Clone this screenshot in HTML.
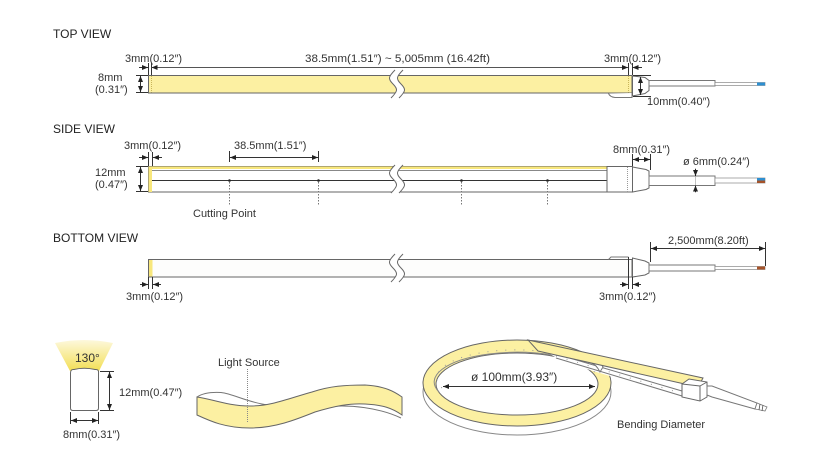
<!DOCTYPE html>
<html><head><meta charset="utf-8">
<style>
html,body{margin:0;padding:0;background:#fff;}
svg{display:block;}
text{font-family:"Liberation Sans",sans-serif;fill:#333;font-size:11px;}
.h{font-size:12px;fill:#222;}
</style></head>
<body>
<svg width="821" height="467" viewBox="0 0 821 467" xmlns="http://www.w3.org/2000/svg">
<defs>
<marker id="a" viewBox="0 0 6 5" refX="6" refY="2.5" markerWidth="6" markerHeight="5" orient="auto-start-reverse" markerUnits="userSpaceOnUse"><path d="M0,0L6,2.5L0,5z" fill="#222"/></marker>
<linearGradient id="fan" x1="0" y1="1" x2="0" y2="0"><stop offset="0" stop-color="#f3df55"/><stop offset="1" stop-color="#fdf8dc"/></linearGradient>
</defs>
<rect width="821" height="467" fill="#fff"/>

<!-- ================= TOP VIEW ================= -->
<text class="h" x="53" y="38">TOP VIEW</text>
<text x="125" y="62">3mm(0.12″)</text>
<text x="305" y="62" textLength="185" lengthAdjust="spacingAndGlyphs">38.5mm(1.51″) ~ 5,005mm (16.42ft)</text>
<text x="604" y="62">3mm(0.12″)</text>
<text x="98" y="81">8mm</text>
<text x="95" y="93">(0.31″)</text>
<text x="647" y="105">10mm(0.40″)</text>

<g stroke="#333" stroke-width="1" fill="none">
  <line x1="148.5" y1="63" x2="148.5" y2="75"/>
  <line x1="151.5" y1="63" x2="151.5" y2="75"/>
  <line x1="628.5" y1="63" x2="628.5" y2="75"/>
  <line x1="632.5" y1="63" x2="632.5" y2="75"/>
  <line x1="139" y1="67.5" x2="148" y2="67.5" marker-end="url(#a)"/>
  <line x1="151.5" y1="67.5" x2="628" y2="67.5" stroke="#555" marker-start="url(#a)" marker-end="url(#a)"/>
  <line x1="642" y1="67.5" x2="632.5" y2="67.5" marker-end="url(#a)"/>
  <line x1="136" y1="75.5" x2="148" y2="75.5"/>
  <line x1="136" y1="92.5" x2="148" y2="92.5"/>
  <line x1="140.5" y1="76" x2="140.5" y2="92" marker-start="url(#a)" marker-end="url(#a)"/>
</g>
<rect x="148.5" y="75.5" width="483.5" height="17.5" fill="#fcf0a2" stroke="#666"/>
<line x1="151.5" y1="76" x2="151.5" y2="92.5" stroke="#c8b55a" stroke-dasharray="1,1"/>
<line x1="628.5" y1="76" x2="628.5" y2="92.5" stroke="#c8b55a" stroke-dasharray="1,1"/>
<path d="M608.5,93.5 Q610,97 615,97.5 H632 V93" fill="#fff" stroke="#777"/>
<path d="M632.5,76 L645,77.5 L649,80.5 V90.5 L645,93.5 L632.5,96 Z" fill="#fff" stroke="#666"/>
<rect x="649" y="80.5" width="66" height="5.5" fill="#fff" stroke="#777"/>
<rect x="715" y="82.5" width="50" height="3" fill="#fff" stroke="#888" stroke-width=".7"/>
<rect x="757" y="82.5" width="8" height="3" fill="#2e8fd0"/>
<g stroke="#333" fill="none">
  <line x1="633" y1="75.5" x2="651" y2="75.5"/>
  <line x1="633" y1="96.5" x2="651" y2="96.5"/>
  <line x1="640.5" y1="77" x2="640.5" y2="95" marker-start="url(#a)" marker-end="url(#a)"/>
</g>
<!-- break -->
<g transform="translate(0,0)">
  <path d="M395,70 C388,77 388,79 393,84 C398,89 398,91 391,98 L399,98 C406,91 406,89 401,84 C396,79 396,77 403,70 Z" fill="#fff"/>
  <path d="M395,70 C388,77 388,79 393,84 C398,89 398,91 391,98 M403,70 C396,77 396,79 401,84 C406,89 406,91 399,98" fill="none" stroke="#666"/>
</g>

<!-- ================= SIDE VIEW ================= -->
<text class="h" x="53" y="133">SIDE VIEW</text>
<text x="124" y="149">3mm(0.12″)</text>
<text x="234" y="149">38.5mm(1.51″)</text>
<text x="95" y="176">12mm</text>
<text x="95" y="188">(0.47″)</text>
<text x="193" y="217">Cutting Point</text>
<text x="613" y="153">8mm(0.31″)</text>
<text x="683" y="165">ø 6mm(0.24″)</text>

<g stroke="#333" fill="none">
  <line x1="148.5" y1="152" x2="148.5" y2="166"/>
  <line x1="152.5" y1="152" x2="152.5" y2="166"/>
  <line x1="139" y1="157.5" x2="148" y2="157.5" marker-end="url(#a)"/>
  <line x1="162" y1="157.5" x2="153" y2="157.5" marker-end="url(#a)"/>
  <line x1="229.5" y1="151" x2="229.5" y2="162"/>
  <line x1="318.5" y1="151" x2="318.5" y2="162"/>
  <line x1="230" y1="157.5" x2="318" y2="157.5" marker-start="url(#a)" marker-end="url(#a)"/>
  <line x1="136" y1="166.5" x2="148" y2="166.5"/>
  <line x1="136" y1="191.5" x2="148" y2="191.5"/>
  <line x1="140.5" y1="167" x2="140.5" y2="191" marker-start="url(#a)" marker-end="url(#a)"/>
  <line x1="632.5" y1="154" x2="632.5" y2="167"/>
  <line x1="650.5" y1="154" x2="650.5" y2="170"/>
  <line x1="633" y1="159.5" x2="650" y2="159.5" marker-start="url(#a)" marker-end="url(#a)"/>
</g>
<rect x="148.5" y="166.5" width="458.5" height="25.5" fill="#fff" stroke="#666"/>
<rect x="152" y="166.5" width="455" height="2.5" fill="#f8e77c"/>
<line x1="152" y1="170.5" x2="607" y2="170.5" stroke="#888"/>
<line x1="152" y1="180.5" x2="607" y2="180.5" stroke="#333"/>
<rect x="148.5" y="166.5" width="3.5" height="25.5" fill="#f8e77c"/>
<rect x="607" y="166.5" width="25.5" height="25.5" fill="#fff" stroke="#666"/>
<line x1="627.5" y1="167" x2="627.5" y2="192" stroke="#999" stroke-dasharray="1,1"/>
<path d="M632.5,167 L646,169.5 L649,171 V188 L646,189.5 L632.5,192 Z" fill="#fff" stroke="#666"/>
<rect x="649" y="176" width="66" height="9.5" fill="#fff" stroke="#777"/>
<rect x="715" y="178" width="50" height="5" fill="#fff" stroke="#888" stroke-width=".7"/>
<rect x="757" y="178" width="8" height="2.5" fill="#2e8fd0"/>
<rect x="757" y="180.5" width="8" height="2.5" fill="#a5532a"/>
<line x1="695.5" y1="168" x2="695.5" y2="193" stroke="#999" stroke-width=".6"/>
<line x1="695.5" y1="169" x2="695.5" y2="176" stroke="#222" marker-end="url(#a)"/>
<line x1="695.5" y1="192" x2="695.5" y2="185.5" stroke="#222" marker-end="url(#a)"/>
<g fill="#222">
  <circle cx="229.5" cy="180.5" r="1.3"/><circle cx="318.5" cy="180.5" r="1.3"/>
  <circle cx="461.5" cy="180.5" r="1.3"/><circle cx="547.5" cy="180.5" r="1.3"/>
</g>
<g stroke="#777" stroke-dasharray="1.5,1.5">
  <line x1="229.5" y1="182" x2="229.5" y2="206"/>
  <line x1="318.5" y1="182" x2="318.5" y2="206"/>
  <line x1="461.5" y1="182" x2="461.5" y2="206"/>
  <line x1="547.5" y1="182" x2="547.5" y2="206"/>
</g>
<g transform="translate(0,95)">
  <path d="M395,70 C388,77 388,79 393,84 C398,89 398,91 391,98 L399,98 C406,91 406,89 401,84 C396,79 396,77 403,70 Z" fill="#fff"/>
  <path d="M395,70 C388,77 388,79 393,84 C398,89 398,91 391,98 M403,70 C396,77 396,79 401,84 C406,89 406,91 399,98" fill="none" stroke="#666"/>
</g>

<!-- ================= BOTTOM VIEW ================= -->
<text class="h" x="53" y="242">BOTTOM VIEW</text>
<text x="126" y="300">3mm(0.12″)</text>
<text x="599" y="300">3mm(0.12″)</text>
<text x="668" y="244">2,500mm(8.20ft)</text>
<rect x="148.5" y="259.5" width="483.5" height="17.5" fill="#fdfdfc" stroke="#666"/>
<rect x="149" y="260" width="3.5" height="16.5" fill="#f8e77c"/>
<path d="M608.5,259.5 L611,257 H628.5" fill="none" stroke="#777"/>
<path d="M632.5,258 L645,261 L649,263 V273 L645,275 L632.5,277 Z" fill="#fff" stroke="#666"/>
<rect x="649" y="265" width="66" height="6" fill="#fff" stroke="#777"/>
<rect x="715" y="266.5" width="50" height="3" fill="#fff" stroke="#888" stroke-width=".7"/>
<rect x="757" y="266.5" width="8" height="3" fill="#a5532a"/>
<g stroke="#333" fill="none">
  <line x1="148.5" y1="277" x2="148.5" y2="289"/>
  <line x1="152.5" y1="277" x2="152.5" y2="289"/>
  <line x1="140" y1="284.5" x2="148" y2="284.5" marker-end="url(#a)"/>
  <line x1="161" y1="284.5" x2="153" y2="284.5" marker-end="url(#a)"/>
  <line x1="628.5" y1="257" x2="628.5" y2="289"/>
  <line x1="632.5" y1="277" x2="632.5" y2="289"/>
  <line x1="620" y1="284.5" x2="628" y2="284.5" marker-end="url(#a)"/>
  <line x1="641" y1="284.5" x2="633" y2="284.5" marker-end="url(#a)"/>
  <line x1="650.5" y1="242" x2="650.5" y2="262"/>
  <line x1="765.5" y1="242" x2="765.5" y2="266"/>
  <line x1="651" y1="248.5" x2="765" y2="248.5" marker-start="url(#a)" marker-end="url(#a)"/>
</g>
<g transform="translate(0,184)">
  <path d="M395,70 C388,77 388,79 393,84 C398,89 398,91 391,98 L399,98 C406,91 406,89 401,84 C396,79 396,77 403,70 Z" fill="#fff"/>
  <path d="M395,70 C388,77 388,79 393,84 C398,89 398,91 391,98 M403,70 C396,77 396,79 401,84 C406,89 406,91 399,98" fill="none" stroke="#666"/>
</g>

<!-- ================= CROSS SECTION ================= -->
<path d="M70,371 L55,343 Q84,337 113,343 L99,371 Q84,366 70,371 Z" fill="url(#fan)"/>
<path d="M70.5,373 Q70.5,369 74,369.5 Q84,367 95,369.5 Q99,369 98.5,373 V408 Q98.5,410.5 96,410.5 H73 Q70.5,410.5 70.5,408 Z" fill="#fff" stroke="#666"/>
<text x="75" y="362" style="font-size:12px">130°</text>
<g stroke="#333" fill="none">
  <line x1="100" y1="371.5" x2="114" y2="371.5"/>
  <line x1="100" y1="410.5" x2="114" y2="410.5"/>
  <line x1="109.5" y1="372" x2="109.5" y2="410" marker-start="url(#a)" marker-end="url(#a)"/>
  <line x1="70.5" y1="412" x2="70.5" y2="424"/>
  <line x1="98.5" y1="412" x2="98.5" y2="424"/>
  <line x1="71" y1="420.5" x2="98" y2="420.5" marker-start="url(#a)" marker-end="url(#a)"/>
</g>
<text x="119" y="396">12mm(0.47″)</text>
<text x="63" y="438">8mm(0.31″)</text>

<!-- ================= WAVE ================= -->
<path d="M197,397 C203,393 212,392 221,392.5 C234,394 246,402 268,405" fill="#fff" stroke="#777"/>
<path d="M325,407 C350,404 380,408 401,418" fill="none" stroke="#777"/>
<path d="M197,397 C212,399 228,406 250,406 C272,406 290,398 312,392 C330,386 345,385 365,385 C385,386 395,392 402,397 L402,415 C392,408 383,405 365,404 C350,403 335,406 315,412 C295,420 275,428 250,428 C225,428 210,421 197,415 Z" fill="#fcf0a2" stroke="#666"/>
<line x1="247.5" y1="369" x2="247.5" y2="423" stroke="#888" stroke-dasharray="1,1"/>
<text x="218" y="366">Light Source</text>

<!-- ================= RING ================= -->
<ellipse cx="517" cy="392" rx="94" ry="43" fill="#fff" stroke="#888"/>
<path d="M423,383 A94,43 0 1,0 611,383 A94,43 0 1,0 423,383 Z M436,384 A81,31 0 1,1 598,384 A81,31 0 1,1 436,384 Z" fill="#fcf0a2" fill-rule="evenodd" stroke="#666"/>
<path d="M439,392 A78,28 0 0,1 595,372" fill="none" stroke="#888"/>
<path d="M442,388 A76,27 0 0,1 590,368" fill="none" stroke="#999" stroke-dasharray="1,8"/>
<!-- tail side -->
<path d="M545,351 L698,387 L698,391 L682,397 L593,371 L560,360 Z" fill="#fff"/>
<line x1="556" y1="354" x2="682" y2="391" stroke="#777"/>
<line x1="556" y1="358" x2="682" y2="396" stroke="#777"/>
<line x1="556" y1="356" x2="682" y2="393.5" stroke="#999" stroke-dasharray="1,10"/>
<!-- ring end -->
<path d="M592,358 Q600,360 603,367 L600,372 Q596,364 591,363 Z" fill="#fff" stroke="#777"/>
<!-- tail top -->
<path d="M528,340 L703,378 L698,387 L538,351 Z" fill="#fcf0a2" stroke="#666"/>
<!-- connector -->
<path d="M682,384 L689,379 L707,382 L707,397 L700,401 L682,397 Z" fill="#fff" stroke="#666"/>
<line x1="682" y1="384" x2="700" y2="386" stroke="#666"/>
<line x1="700" y1="386" x2="700" y2="401" stroke="#666"/>
<line x1="700" y1="386" x2="707" y2="382" stroke="#666"/>
<path d="M707,386 L712,386 L757,403 L755,409 L712,397 L707,395 Z" fill="#fff" stroke="#777"/>
<path d="M757,403 L767,407 L765,411 L755,409 Z" fill="#fff" stroke="#777" stroke-width=".8"/>
<line x1="760" y1="404" x2="759" y2="410" stroke="#555" stroke-width=".8"/>
<line x1="763" y1="405" x2="762" y2="411" stroke="#555" stroke-width=".8"/>
<!-- diameter dim -->
<line x1="443" y1="386.5" x2="595" y2="386.5" stroke="#333" marker-start="url(#a)" marker-end="url(#a)"/>
<text x="471" y="381" style="font-size:12px">ø 100mm(3.93″)</text>
<text x="617" y="428">Bending Diameter</text>
</svg>
</body></html>
